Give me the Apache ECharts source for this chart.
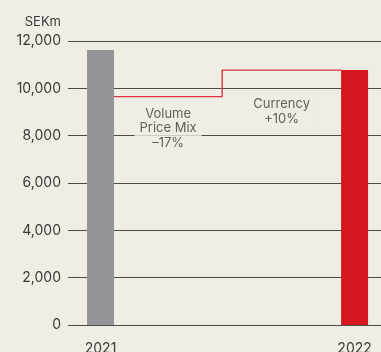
<!DOCTYPE html>
<html>
<head>
<meta charset="utf-8">
<script src="https://cdn.jsdelivr.net/npm/echarts@6/dist/echarts.min.js"></script>
<style>
  html, body { margin: 0; padding: 0; background: #f0ede4; }
  #chart { width: 381px; height: 352px; }
</style>
</head>
<body>
<div id="chart"></div>
<script>
// Year columns (x positions in axis units: 2021 -> 0, 2022 -> 1)
const years = ['2021', '2022'];
const yearPos = [0, 1];
const salesSEKm = [11620, 10770];

// Bridge steps between the two columns
const stepEdges = [0.053, 0.479, 0.947];      // start, riser, end (axis units)
const stepLevels = [9650, 10770];             // after volume/price mix, after currency
const stepLabels = ['Volume\nPrice Mix\n\u201317%', 'Currency\n+10%'];
const stepLabelLevels = [8300, 9010];

// Value axis ticks
const yTicks = [0, 2000, 4000, 6000, 8000, 10000, 12000];
const unitLabel = 'SEKm';

const BG = '#f0ede4';
const TEXT = '#3a3a3a';
const FONT = 'Inter, Roboto, "Noto Sans", sans-serif';

const chart = echarts.init(document.getElementById('chart'), null, { renderer: 'canvas' });

const stepLine = [
  [stepEdges[0], stepLevels[0]],
  [stepEdges[1], stepLevels[0]],
  [stepEdges[1], stepLevels[1]],
  [stepEdges[2], stepLevels[1]]
];

const labelPoints = stepLabels.map((t, i) => ({
  value: [(stepEdges[i] + stepEdges[i + 1]) / 2, stepLabelLevels[i]],
  label: { formatter: t }
}));

chart.setOption({
  backgroundColor: BG,
  animation: false,
  textStyle: { fontFamily: FONT },
  grid: { left: 68, right: 0, top: 41, bottom: 27, containLabel: false, outerBoundsMode: 'none' },
  graphic: [{
    type: 'text',
    right: 320,
    top: 16,
    style: { text: unitLabel, fill: TEXT, font: '13px ' + FONT, textAlign: 'right' }
  }],
  xAxis: {
    type: 'value',
    min: -0.128,
    max: 1.104,
    splitLine: { show: false },
    axisLine: { show: false },
    axisTick: { show: false },
    axisLabel: {
      customValues: yearPos,
      formatter: v => years[Math.round(v)],
      color: TEXT,
      fontSize: 14,
      fontFamily: FONT,
      margin: 17
    }
  },
  yAxis: {
    type: 'value',
    min: yTicks[0],
    max: yTicks[yTicks.length - 1],
    interval: yTicks[1] - yTicks[0],
    axisLine: { show: false },
    axisTick: { show: false },
    axisLabel: {
      color: TEXT,
      fontSize: 14,
      fontFamily: FONT,
      margin: 7,
      formatter: v => v.toLocaleString('en-US')
    },
    splitLine: { show: true, lineStyle: { color: '#4a4a4a', width: 1 } }
  },
  series: [
    {
      type: 'line',
      data: stepLine,
      showSymbol: false,
      lineStyle: { color: '#e0313a', width: 1.4 },
      silent: true,
      z: 3
    },
    {
      type: 'bar',
      barWidth: 27,
      data: [
        { value: [yearPos[0], salesSEKm[0]], itemStyle: { color: '#939598' } },
        { value: [yearPos[1], salesSEKm[1]], itemStyle: { color: '#d6171f' } }
      ],
      silent: true,
      z: 4
    },
    {
      type: 'scatter',
      data: labelPoints,
      symbolSize: 1,
      itemStyle: { color: 'transparent' },
      silent: true,
      z: 5,
      label: {
        show: true,
        position: 'inside',
        color: TEXT,
        fontSize: 13,
        lineHeight: 14.5,
        fontFamily: FONT,
        align: 'center',
        verticalAlign: 'middle',
        backgroundColor: BG,
        padding: [0, 5]
      }
    }
  ]
});
</script>
</body>
</html>
